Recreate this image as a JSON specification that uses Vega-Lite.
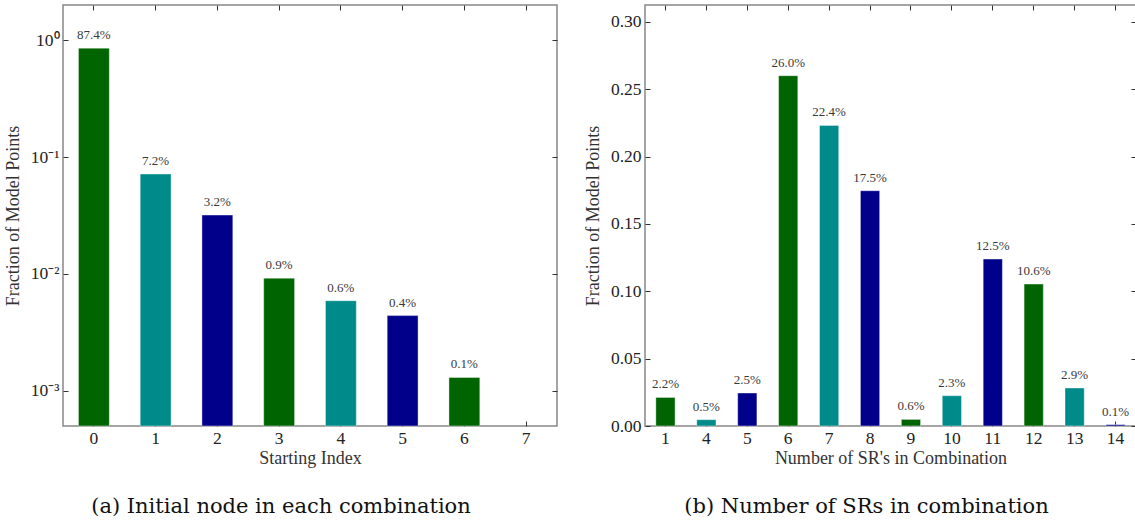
{
  "$schema": "https://vega.github.io/schema/vega-lite/v6.json",
  "background": "white",
  "padding": {"left": 3, "top": 3, "right": 1, "bottom": 4},
  "spacing": 24,
  "config": {
    "font": "Liberation Serif",
    "view": {"stroke": "#888888", "strokeWidth": 1.5},
    "axis": {
      "domain": false, "grid": false,
      "tickColor": "#333333", "tickSize": -5, "tickWidth": 1,
      "labelFont": "Liberation Serif", "labelFontSize": 17.5, "labelColor": "#222222",
      "titleFont": "Liberation Serif", "titleFontSize": 18, "titleFontWeight": "normal", "titleColor": "#333333"
    },
    "title": {"font": "DejaVu Serif", "fontSize": 21, "fontWeight": "normal", "color": "#111111", "orient": "bottom", "anchor": "middle", "offset": 28}
  },
  "hconcat": [
    {
      "width": 494, "height": 421,
      "title": {"text": "(a) Initial node in each combination", "dx": -29},
      "data": {"values": [
        {"index": "0", "fraction": 0.855, "label": "87.4%", "c": 0},
        {"index": "1", "fraction": 0.0716, "label": "7.2%", "c": 1},
        {"index": "2", "fraction": 0.0319, "label": "3.2%", "c": 2},
        {"index": "3", "fraction": 0.0092, "label": "0.9%", "c": 0},
        {"index": "4", "fraction": 0.0059, "label": "0.6%", "c": 1},
        {"index": "5", "fraction": 0.0044, "label": "0.4%", "c": 2},
        {"index": "6", "fraction": 0.0013, "label": "0.1%", "c": 0}
      ]},
      "encoding": {
        "x": {"field": "index", "type": "ordinal", "scale": {"domain": ["0","1","2","3","4","5","6","7"], "paddingInner": 0.5, "paddingOuter": 0.25}},
        "y": {"field": "fraction", "type": "quantitative", "scale": {"type": "log", "domain": [0.0005, 2]}}
      },
      "layer": [
        {
          "mark": {"type": "bar", "stroke": "#ffffff", "strokeOpacity": 0.4, "strokeWidth": 1},
          "encoding": {
            "x": {"field": "index", "type": "ordinal", "axis": {"orient": "bottom", "title": "Starting Index", "labelAngle": 0, "ticks": true, "zindex": 0, "labelPadding": 8, "titlePadding": 3}},
            "y": {"field": "fraction", "type": "quantitative", "axis": {"orient": "left", "title": "Fraction of Model Points", "values": [0.001, 0.01, 0.1, 1], "labelExpr": "datum.value > 0.5 ? '10⁰' : datum.value > 0.05 ? '10⁻¹' : datum.value > 0.005 ? '10⁻²' : '10⁻³'", "labelPadding": 9, "titlePadding": 8}},
            "y2": {"datum": 0.0005},
            "color": {"field": "c", "type": "nominal", "scale": {"domain": [0, 1, 2], "range": ["#006400", "#008b8b", "#00008b"]}, "legend": null}
          }
        },
        {
          "mark": {"type": "text", "baseline": "alphabetic", "dy": -9, "fontSize": 13, "color": "#3a3a3a"},
          "encoding": {
            "text": {"field": "label"},
            "x": {"field": "index", "type": "ordinal", "axis": {"orient": "top", "labels": false, "title": null}},
            "y": {"field": "fraction", "type": "quantitative", "axis": {"orient": "right", "labels": false, "title": null, "values": [0.001, 0.01, 0.1, 1]}}
          }
        }
      ],
      "resolve": {"axis": {"x": "independent", "y": "independent"}}
    },
    {
      "width": 491, "height": 421,
      "title": {"text": "(b) Number of SRs in combination", "dx": -24},
      "data": {"values": [
        {"n": "1", "fraction": 0.0212, "label": "2.2%", "c": 0},
        {"n": "4", "fraction": 0.0047, "label": "0.5%", "c": 1},
        {"n": "5", "fraction": 0.0245, "label": "2.5%", "c": 2},
        {"n": "6", "fraction": 0.2601, "label": "26.0%", "c": 0},
        {"n": "7", "fraction": 0.2232, "label": "22.4%", "c": 1},
        {"n": "8", "fraction": 0.1747, "label": "17.5%", "c": 2},
        {"n": "9", "fraction": 0.0049, "label": "0.6%", "c": 0},
        {"n": "10", "fraction": 0.0225, "label": "2.3%", "c": 1},
        {"n": "11", "fraction": 0.124, "label": "12.5%", "c": 2},
        {"n": "12", "fraction": 0.1054, "label": "10.6%", "c": 0},
        {"n": "13", "fraction": 0.0282, "label": "2.9%", "c": 1},
        {"n": "14", "fraction": 0.001, "label": "0.1%", "c": 2}
      ]},
      "encoding": {
        "x": {"field": "n", "type": "ordinal", "sort": null, "scale": {"domain": ["1","4","5","6","7","8","9","10","11","12","13","14"], "paddingInner": 0.53, "paddingOuter": 0.265}},
        "y": {"field": "fraction", "type": "quantitative", "scale": {"domain": [0, 0.3126], "nice": false, "zero": true}}
      },
      "layer": [
        {
          "mark": {"type": "bar", "stroke": "#ffffff", "strokeOpacity": 0.4, "strokeWidth": 1},
          "encoding": {
            "x": {"field": "n", "type": "ordinal", "axis": {"orient": "bottom", "title": "Number of SR's in Combination", "labelAngle": 0, "ticks": true, "zindex": 0, "labelPadding": 8, "titlePadding": 3}},
            "y": {"field": "fraction", "type": "quantitative", "axis": {"orient": "left", "title": "Fraction of Model Points", "values": [0, 0.05, 0.1, 0.15, 0.2, 0.25, 0.3], "format": ".2f", "labelPadding": 9, "titlePadding": 8}},
            "color": {"field": "c", "type": "nominal", "scale": {"domain": [0, 1, 2], "range": ["#006400", "#008b8b", "#00008b"]}, "legend": null}
          }
        },
        {
          "mark": {"type": "text", "baseline": "alphabetic", "dy": -9, "fontSize": 13, "color": "#3a3a3a"},
          "encoding": {
            "text": {"field": "label"},
            "x": {"field": "n", "type": "ordinal", "axis": {"orient": "top", "labels": false, "title": null}},
            "y": {"field": "fraction", "type": "quantitative", "axis": {"orient": "right", "labels": false, "title": null, "values": [0, 0.05, 0.1, 0.15, 0.2, 0.25, 0.3]}}
          }
        }
      ],
      "resolve": {"axis": {"x": "independent", "y": "independent"}}
    }
  ]
}
